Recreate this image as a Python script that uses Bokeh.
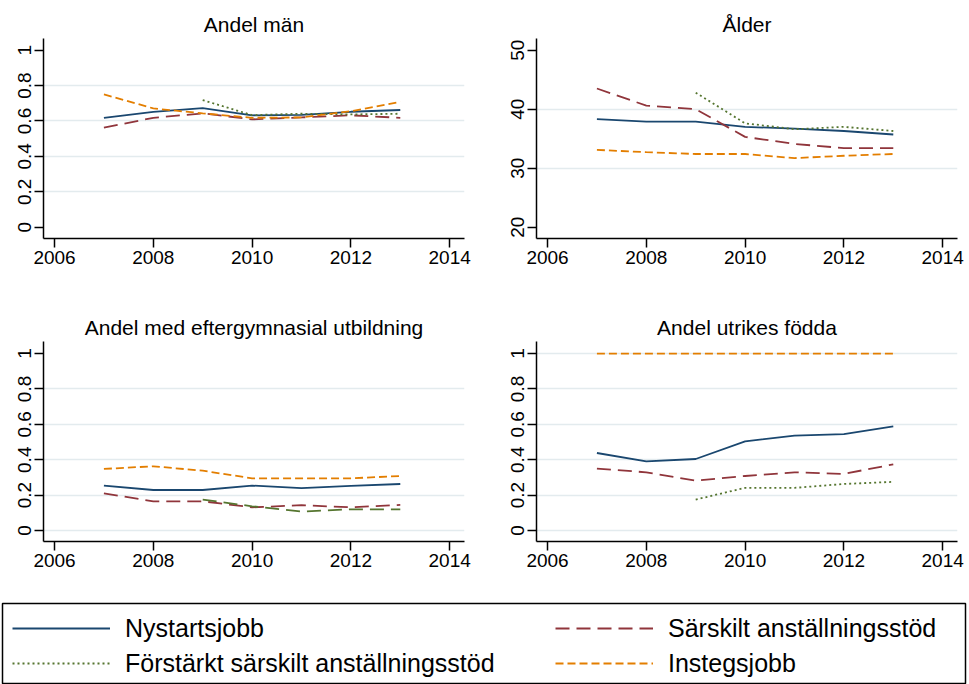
from bokeh.plotting import figure
from bokeh.models import Range1d, FixedTicker, Legend, LegendItem
from bokeh.layouts import column, row
from bokeh.embed import file_html
from bokeh.resources import INLINE

# ---------------- data ----------------
years = [2007, 2008, 2009, 2010, 2011, 2012, 2013]
years_fss = [2009, 2010, 2011, 2012, 2013]

names = ["Nystartsjobb", "Särskilt anställningsstöd",
         "Förstärkt särskilt anställningsstöd", "Instegsjobb"]

# Andel män
man_nystart = [0.618, 0.652, 0.673, 0.632, 0.635, 0.652, 0.662]
man_sarskilt = [0.562, 0.618, 0.643, 0.609, 0.620, 0.632, 0.618]
man_forstarkt = [0.718, 0.633, 0.641, 0.637, 0.641]
man_insteg = [0.750, 0.671, 0.643, 0.618, 0.620, 0.655, 0.708]

# Ålder
alder_nystart = [38.3, 37.9, 37.9, 37.0, 36.7, 36.3, 35.7]
alder_sarskilt = [43.5, 40.6, 40.0, 35.3, 34.1, 33.4, 33.4]
alder_forstarkt = [42.8, 37.6, 36.6, 37.0, 36.3]
alder_insteg = [33.1, 32.7, 32.4, 32.4, 31.7, 32.1, 32.4]

# Andel med eftergymnasial utbildning
utb_nystart = [0.254, 0.229, 0.229, 0.254, 0.239, 0.252, 0.263]
utb_sarskilt = [0.210, 0.165, 0.165, 0.131, 0.143, 0.131, 0.145]
utb_forstarkt = [0.175, 0.137, 0.107, 0.120, 0.120]
utb_insteg = [0.348, 0.363, 0.338, 0.295, 0.295, 0.295, 0.308]

# Andel utrikes födda
utr_nystart = [0.438, 0.391, 0.404, 0.504, 0.536, 0.545, 0.588]
utr_sarskilt = [0.350, 0.329, 0.282, 0.308, 0.329, 0.320, 0.374]
utr_forstarkt = [0.175, 0.241, 0.241, 0.263, 0.275]
utr_insteg = [1.0, 1.0, 1.0, 1.0, 1.0, 1.0, 1.0]

x_ticks = [2006, 2008, 2010, 2012, 2014]
share_ticks = [0, 0.2, 0.4, 0.6, 0.8, 1]
share_labels = ["0", "0.2", "0.4", "0.6", "0.8", "1"]
age_ticks = [20, 30, 40, 50]
age_labels = ["20", "30", "40", "50"]

# ---------------- style ----------------
FONT = "Liberation Sans"
COLORS = ["#1a476f", "#90353b", "#55752f", "#e37e00"]
DASHES = ["solid", "14 7", "2 3", "8 4"]
LW = 1.8
GRID = "#e3ebee"


def make_panel(title, series, ylo, yhi, yticks, ylabels, ygrid,
               left, right, bottom, green_dash):
    p = figure(frame_width=421, frame_height=200,
               x_range=Range1d(2005.777, 2014.3), y_range=Range1d(ylo, yhi),
               output_backend="svg", toolbar_location=None,
               min_border_left=left, min_border_right=right,
               min_border_top=38, min_border_bottom=bottom)
    p.outline_line_color = None
    p.background_fill_color = "white"
    p.border_fill_color = "white"
    p.title.text = title
    p.title.align = "center"
    p.title.text_font = FONT
    p.title.text_font_size = "21px"
    p.title.text_font_style = "normal"
    p.title.text_color = "black"
    p.title.standoff = 5

    xs = [years, years, years_fss, years]
    for i, ys in enumerate(series):
        dash = DASHES[i]
        if i == 2 and green_dash is not None:
            dash = green_dash
        p.line(xs[i], ys, line_color=COLORS[i], line_width=LW, line_dash=dash)

    p.xaxis.ticker = FixedTicker(ticks=x_ticks)
    p.yaxis.ticker = FixedTicker(ticks=yticks)
    p.yaxis.major_label_overrides = dict(zip(yticks, ylabels))
    p.yaxis.major_label_orientation = "vertical"
    for ax in (p.xaxis[0], p.yaxis[0]):
        ax.axis_line_color = "black"
        ax.axis_line_width = 1.5
        ax.major_tick_line_color = "black"
        ax.major_tick_line_width = 1.5
        ax.major_tick_out = 9
        ax.major_tick_in = 0
        ax.minor_tick_out = 0
        ax.minor_tick_in = 0
        ax.major_label_text_font = FONT
        ax.major_label_text_font_size = "19px"
        ax.major_label_text_color = "black"
        ax.major_label_standoff = 3
    p.xgrid.grid_line_color = None
    p.ygrid.ticker = FixedTicker(ticks=ygrid)
    p.ygrid.grid_line_color = GRID
    p.ygrid.grid_line_width = 1.5
    return p


p1 = make_panel("Andel män",
                [man_nystart, man_sarskilt, man_forstarkt, man_insteg],
                -0.064, 1.066, share_ticks, share_labels, [0.2, 0.4, 0.6, 0.8],
                43, 12, 65, None)
p2 = make_panel("Ålder",
                [alder_nystart, alder_sarskilt, alder_forstarkt, alder_insteg],
                18.07, 51.98, age_ticks, age_labels, [30, 40],
                60, 10, 65, None)
p3 = make_panel("Andel med eftergymnasial utbildning",
                [utb_nystart, utb_sarskilt, utb_forstarkt, utb_insteg],
                -0.062, 1.068, share_ticks, share_labels, [0, 0.2, 0.4, 0.6, 0.8],
                43, 12, 55, "14 7")
p4 = make_panel("Andel utrikes födda",
                [utr_nystart, utr_sarskilt, utr_forstarkt, utr_insteg],
                -0.062, 1.068, share_ticks, share_labels, share_ticks,
                60, 10, 55, None)

# ---------------- legend ----------------
leg = figure(width=967, height=88, x_range=Range1d(0, 1), y_range=Range1d(0, 1),
             output_backend="svg", toolbar_location=None,
             min_border_left=2, min_border_right=2, min_border_top=7,
             min_border_bottom=0)
leg.axis.visible = False
leg.grid.visible = False
leg.outline_line_color = "black"
leg.outline_line_width = 1.5
leg.background_fill_color = "white"
leg.border_fill_color = "white"

# legend proxies: same series, lying outside this figure's ranges
legend_series = [man_nystart, man_sarskilt, man_forstarkt, man_insteg]
legend_x = [years, years, years_fss, years]
rends = []
for i in range(4):
    rends.append(leg.line(x=legend_x[i], y=legend_series[i], line_color=COLORS[i],
                          line_width=LW, line_dash=DASHES[i]))


def make_legend(idx, loc, label_width):
    lg = Legend(items=[LegendItem(label=names[i], renderers=[rends[i]]) for i in idx],
                location=loc, orientation="vertical")
    lg.border_line_color = "white"
    lg.border_line_alpha = 0
    lg.background_fill_alpha = 0
    lg.padding = 10
    lg.spacing = 5
    lg.margin = 0
    lg.glyph_width = 98
    lg.glyph_height = 30
    lg.label_height = 30
    lg.label_width = label_width
    lg.label_standoff = 15
    lg.label_text_font = FONT
    lg.label_text_font_size = "25px"
    lg.label_text_color = "black"
    return lg


leg.add_layout(make_legend([0, 2], "top_left", 20), "center")
leg.add_layout(make_legend([1, 3], "top_right", 287), "center")

layout = column(row(p1, p2), row(p3, p4), leg)

open("out.html", "w").write(file_html(layout, INLINE))
